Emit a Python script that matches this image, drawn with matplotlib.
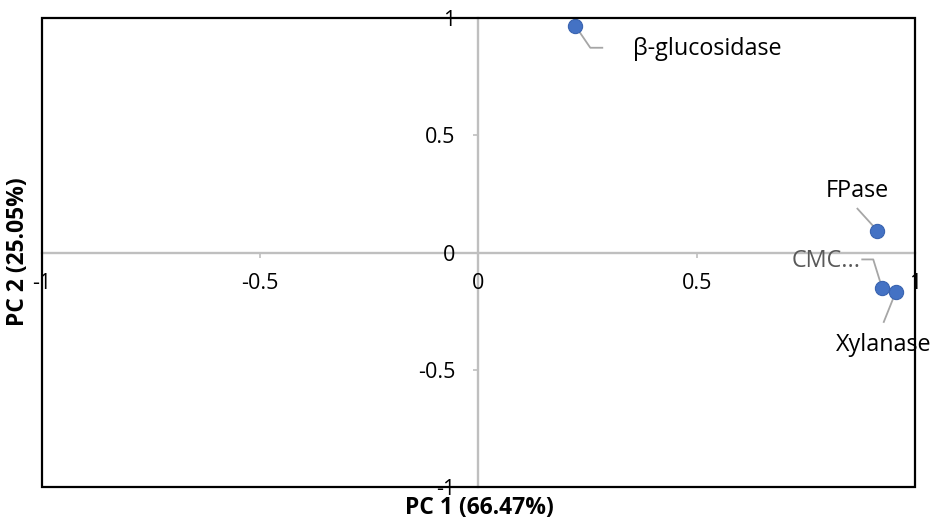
import matplotlib
matplotlib.use("Agg")
import matplotlib.pyplot as plt
from matplotlib.patches import Rectangle
from matplotlib.transforms import IdentityTransform, ScaledTranslation

# loadings
enzymes = ["β-glucosidase", "FPase", "CMC...", "Xylanase"]
pc1 = [0.222, 0.914, 0.925, 0.956]
pc2 = [0.967, 0.094, -0.152, -0.167]
ticks = [-1, -0.5, 0, 0.5, 1]
tick_labels = ["-1", "-0.5", "0", "0.5", "1"]

# label placement (pixel offsets from the point) and leader lines
label_style = {
    "β-glucosidase": dict(off=(58, -23), ha="left", leader=[(0, 0), (15, -22), (27, -22)], color="black"),
    "FPase": dict(off=(-20, 40), ha="center", leader=[(-20, 22), (0, 0)], color="black"),
    "CMC...": dict(off=(-22, 27), ha="right", leader=[(-20, 29), (-9, 29), (0, 0)], color="#595959"),
    "Xylanase": dict(off=(-12, -53), ha="center", leader=[(-12, -30), (0, 0)], color="black"),
}

plt.rcParams["font.family"] = ["Open Sans", "DejaVu Sans"]

fig = plt.figure(figsize=(9.33, 5.22), dpi=100)
ax = fig.add_axes([0.0447, 0.0661, 0.936, 0.8994])
ax.set_xlim(-1, 1)
ax.set_ylim(-1, 1)

gray = "#bfbfbf"
for s in ["top", "right"]:
    ax.spines[s].set_visible(False)
for s in ["left", "bottom"]:
    ax.spines[s].set_position("zero")
    ax.spines[s].set_color(gray)
    ax.spines[s].set_linewidth(1.7)
    ax.spines[s].set_zorder(1)

ax.set_xticks(ticks)
ax.set_xticklabels(tick_labels)
ax.set_yticks(ticks)
ax.set_yticklabels(tick_labels)
ax.tick_params(axis="x", direction="out", length=3.5, width=1.2, color=gray, pad=11, labelsize=15.5)
ax.tick_params(axis="y", direction="out", length=3.5, width=1.2, color=gray, pad=13, labelsize=15.5)

# black frame around plot area
ax.add_patch(Rectangle((0, 0), 1, 1, transform=ax.transAxes, fill=False,
                       edgecolor="black", linewidth=1.6, zorder=5, clip_on=False))

for name, x, y in zip(enzymes, pc1, pc2):
    st = label_style[name]
    tr = IdentityTransform() + ScaledTranslation(x, y, ax.transData)
    xs = [p[0] for p in st["leader"]]
    ys = [p[1] for p in st["leader"]]
    ax.plot(xs, ys, color="#a6a6a6", lw=1.3, transform=tr, zorder=2, clip_on=False)
    ax.annotate(name, (x, y), xytext=st["off"], textcoords="offset pixels",
                ha=st["ha"], va="center", fontsize=16.8, color=st["color"], zorder=4)

ax.scatter(pc1, pc2, s=105, color="#4472c4", edgecolor="#3a64b0", linewidth=0.8, zorder=3, clip_on=False)

fig.text(479 / 933, 1 - 508 / 522, "PC 1 (66.47%)", ha="center", va="center",
         fontsize=16.5, fontweight="bold")
fig.text(18 / 933, 1 - 252 / 522, "PC 2 (25.05%)", ha="center", va="center",
         rotation=90, fontsize=16.5, fontweight="bold")

fig.savefig("out.png", dpi=100)
